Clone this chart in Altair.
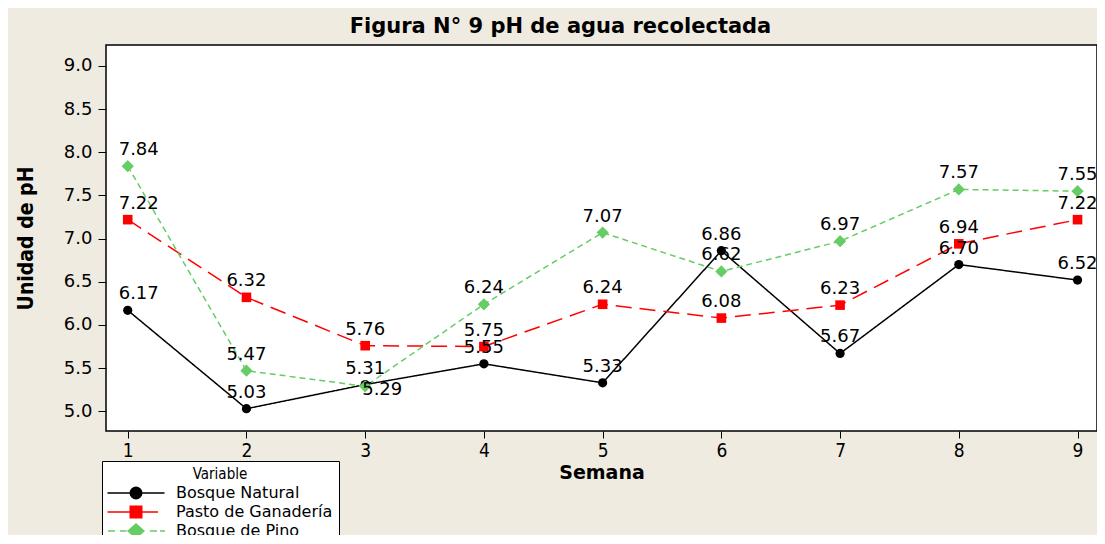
import altair as alt
import pandas as pd

weeks = [1, 2, 3, 4, 5, 6, 7, 8, 9]
series_names = ["Bosque Natural", "Pasto de Ganadería", "Bosque de Pino"]
bosque_natural = [6.17, 5.03, 5.31, 5.55, 5.33, 6.86, 5.67, 6.70, 6.52]
pasto_ganaderia = [7.22, 6.32, 5.76, 5.75, 6.24, 6.08, 6.23, 6.94, 7.22]
bosque_pino = [7.84, 5.47, 5.29, 6.24, 7.07, 6.62, 6.97, 7.57, 7.55]
y_ticks = [5.0, 5.5, 6.0, 6.5, 7.0, 7.5, 8.0, 8.5, 9.0]
x_ticks = weeks

colors = ["#000000", "#FF0000", "#66CC66"]
dashes = [[1, 0], [16, 8], [6, 4]]
shapes = ["circle", "square", "diamond"]
sizes = [85, 92, 150]
legend_paths = [
    "M-5.7,-0.15L-1.2,-0.15L-1.2,0.15L-5.7,0.15Z"
    "M1.2,-0.15L5.7,-0.15L5.7,0.15L1.2,0.15Z"
    "M1.3,0L1.2,0.5L0.92,0.92L0.5,1.2L0,1.3L-0.5,1.2L-0.92,0.92L-1.2,0.5L-1.3,0"
    "L-1.2,-0.5L-0.92,-0.92L-0.5,-1.2L0,-1.3L0.5,-1.2L0.92,-0.92L1.2,-0.5Z",
    "M-5.7,-0.15L-1.3,-0.15L-1.3,0.15L-5.7,0.15Z"
    "M1.3,-0.15L4.4,-0.15L4.4,0.15L1.3,0.15Z"
    "M-1.3,-1.3L1.3,-1.3L1.3,1.3L-1.3,1.3Z",
    "M-5.6,-0.15L-4.2,-0.15L-4.2,0.15L-5.6,0.15Z"
    "M-3.2,-0.15L-1.9,-0.15L-1.9,0.15L-3.2,0.15Z"
    "M2.8,-0.15L4.2,-0.15L4.2,0.15L2.8,0.15Z"
    "M4.8,-0.15L5.8,-0.15L5.8,0.15L4.8,0.15Z"
    "M-1.8,0L0,-1.6L1.8,0L0,1.6Z",
]

rows = []
for name, vals in zip(series_names, [bosque_natural, pasto_ganaderia, bosque_pino]):
    for w, v in zip(weeks, vals):
        rows.append({"Semana": w, "pH": v, "Variable": name, "label": f"{v:.2f}"})
df = pd.DataFrame(rows)

x_scale = alt.Scale(domain=[0.817, 9.164], nice=False, zero=False)
y_scale = alt.Scale(domain=[4.772, 9.243], nice=False, zero=False)

x_enc = alt.X(
    "Semana:Q",
    scale=x_scale,
    axis=alt.Axis(
        values=x_ticks, format="d", title="Semana", grid=False, domain=False,
        tickSize=7, tickColor="black", tickWidth=1,
        labelFont="DejaVu Sans Condensed", labelFontSize=19, labelColor="black",
        labelPadding=3,
        titleFont="DejaVu Sans", titleFontSize=19, titleFontWeight="bold",
        titleColor="black", titlePadding=3,
    ),
)
y_enc = alt.Y(
    "pH:Q",
    scale=y_scale,
    axis=alt.Axis(
        values=y_ticks, format=".1f", title="Unidad de pH", grid=False, domain=False,
        tickSize=8, tickColor="black", tickWidth=1,
        labelFont="DejaVu Sans", labelFontSize=18, labelColor="black",
        labelPadding=6,
        titleFont="DejaVu Sans Condensed", titleFontSize=21, titleFontWeight="bold",
        titleColor="black", titleX=-80, titleY=193, titleAngle=270,
        titleAlign="center", titleBaseline="middle",
    ),
)

base = alt.Chart(df)

line_layers = []
point_layers = []
for name, col, dash, shp, sz in zip(series_names, colors, dashes, shapes, sizes):
    sub = base.transform_filter(alt.datum.Variable == name)
    line_layers.append(
        sub.mark_line(strokeWidth=1.5, color=col, strokeDash=dash).encode(x=x_enc, y=y_enc)
    )
    point_layers.append(
        sub.mark_point(filled=True, opacity=1, shape=shp, size=sz, color=col).encode(x=x_enc, y=y_enc)
    )

legend_spec = dict(
    title="Variable", orient="none", legendX=-4, legendY=416,
    fillColor="white", strokeColor="black", padding=6, cornerRadius=0,
    titleFont="DejaVu Sans Condensed", titleFontSize=15, titleFontWeight="normal",
    titleColor="black", titleAnchor="middle", titlePadding=3, titleBaseline="top",
    labelFont="DejaVu Sans", labelFontSize=16, labelColor="black",
    symbolSize=100, symbolStrokeWidth=0, symbolOffset=20, labelOffset=32,
    symbolOpacity=1, rowPadding=3,
)

# legend-only layer: its marks sit above the y domain and are clipped away
legend_layer = base.mark_point(filled=True, clip=True, opacity=1).encode(
    x=x_enc,
    y=alt.Y("legend_y:Q", scale=y_scale),
    color=alt.Color("Variable:N", scale=alt.Scale(domain=series_names, range=colors), legend=alt.Legend(**legend_spec)),
    shape=alt.Shape("Variable:N", scale=alt.Scale(domain=series_names, range=legend_paths), legend=alt.Legend(**legend_spec)),
).transform_calculate(legend_y="100")

text_style = dict(font="DejaVu Sans", fontSize=18, color="black")

labels_main = base.transform_filter(
    "datum.Semana > 1 && !(datum.Semana == 3 && datum.Variable == 'Bosque de Pino')"
).mark_text(align="center", baseline="alphabetic", dy=-11, **text_style).encode(
    x=x_enc, y=y_enc, text="label:N"
)
labels_first = base.transform_filter("datum.Semana == 1").mark_text(
    align="center", baseline="alphabetic", dx=11, dy=-11, **text_style
).encode(x=x_enc, y=y_enc, text="label:N")
labels_special = base.transform_filter(
    "datum.Semana == 3 && datum.Variable == 'Bosque de Pino'"
).mark_text(align="left", baseline="alphabetic", dx=-3, dy=9, **text_style).encode(
    x=x_enc, y=y_enc, text="label:N"
)

chart = alt.layer(
    *line_layers, *point_layers, legend_layer, labels_main, labels_first, labels_special
).properties(
    width=991, height=386,
    title=alt.TitleParams(
        "Figura N° 9 pH de agua recolectada", font="DejaVu Sans", fontSize=21,
        fontWeight="bold", color="black", anchor="middle", dx=-41, offset=-9,
        baseline="alphabetic",
    ),
    background="#EFEBE1",
    padding={"left": 98, "top": 37, "right": 0, "bottom": 104},
    autosize=alt.AutoSizeParams(type="none"),
).configure_view(
    stroke="black", strokeWidth=1.5, fill="white"
)

chart.save("out.html", embed_options={"renderer": "svg", "actions": False})
